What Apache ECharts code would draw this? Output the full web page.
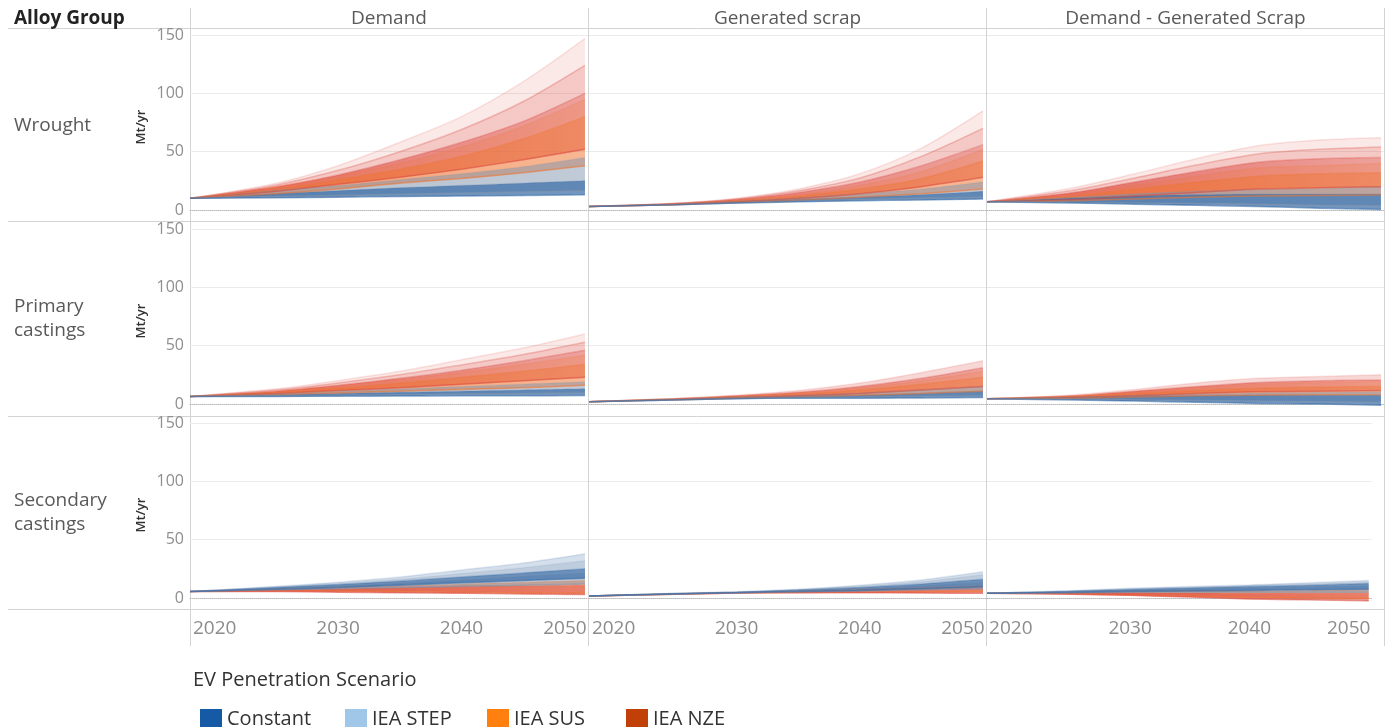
<!DOCTYPE html>
<html>
<head>
<meta charset="utf-8">
<script src="https://cdn.jsdelivr.net/npm/echarts@6/dist/echarts.min.js"></script>
<style>
  html, body { margin: 0; padding: 0; background: #ffffff; }
  #chart { width: 1396px; height: 727px; }
</style>
</head>
<body>
<div id="chart"></div>
<script>
// ---- data -------------------------------------------------------------
const years = [2018, 2025, 2030, 2035, 2040, 2045, 2050];
const xTicks = [2020, 2030, 2040, 2050];
const alloyGroups = ['Wrought', 'Primary\ncastings', 'Secondary\ncastings'];
const measures = ['Demand', 'Generated scrap', 'Demand - Generated Scrap'];
const scenarios = ['Constant', 'IEA STEP', 'IEA SUS', 'IEA NZE'];

// Each scenario is a bundle of model runs, summarised by level lines (Mt/yr per year),
// listed from the dense edge of the bundle towards its sparse, fading edge.
const wroughtDemandConstant = [[10, 10.5, 11, 11.5, 12, 12.5, 13], [10, 14, 16.5, 19, 21, 23, 25]];
const wroughtDemandStep     = [[10, 11.5, 12.5, 13.5, 14.5, 15.5, 16.5], [10, 17, 21, 26, 31, 37, 45]];
const wroughtDemandSus      = [[10, 14, 18, 23, 27, 32, 38], [10, 18, 26, 35, 46, 61, 80], [10, 20, 29, 40, 54, 72, 95]];
const wroughtDemandNze      = [[10, 16, 22, 28, 35, 43, 52], [10, 20, 30, 43, 58, 76, 100], [10, 21.5, 34, 50, 69, 93, 124], [10, 23, 38, 58, 80, 110, 147]];

const wroughtScrapConstant = [[3, 4.5, 6, 7, 8, 8.5, 9.5], [3, 5, 7, 9, 11, 13, 16]];
const wroughtScrapStep     = [[3, 4.5, 6, 7.5, 9, 10, 11], [3, 5.2, 7.5, 10.5, 14, 18, 24]];
const wroughtScrapSus      = [[3, 4.6, 6.5, 8.5, 11, 14, 18], [3, 5, 8, 12, 18, 27, 42], [3, 5.3, 8.5, 13, 21, 33, 52]];
const wroughtScrapNze      = [[3, 4.8, 7, 10, 14, 20, 28], [3, 5.5, 9, 15, 24, 38, 56], [3, 5.6, 9.5, 16.5, 27.5, 46, 70], [3, 5.8, 10, 18, 31, 53, 85]];

const wroughtNetConstant = [[7, 6, 5, 4, 3, 1.5, 0.5], [7, 10, 12, 13, 13.5, 13.5, 13.5]];
const wroughtNetStep     = [[7, 6.5, 6, 5.5, 5, 4, 3.5], [7, 11, 14, 16, 17.5, 18.5, 20]];
const wroughtNetSus      = [[7, 8, 9.5, 11, 12, 12.5, 13], [7, 12, 18, 24, 29, 31, 32], [7, 14, 21, 29, 36, 38, 40]];
const wroughtNetNze      = [[7, 9, 12, 15, 18, 19, 20], [7, 15, 24, 33, 41, 44, 45], [7, 17, 27.5, 38.5, 48, 52, 54], [7, 19, 31, 44, 55, 60, 62]];

const primaryDemandConstant = [[6.5, 6.5, 6.7, 6.8, 7, 7, 7.2], [6.5, 8, 9, 10, 11, 12, 13]];
const primaryDemandStep     = [[6.5, 7, 7.5, 8, 8.5, 9, 9.5], [6.5, 9, 11, 13, 15, 17, 19]];
const primaryDemandSus      = [[6.5, 8, 9.5, 11, 12.5, 14, 16], [6.5, 10, 13.5, 18, 23, 28, 34], [6.5, 11, 15.5, 21, 27, 34, 42]];
const primaryDemandNze      = [[6.5, 9, 11.5, 14, 17, 20, 23], [6.5, 11, 16, 22, 29, 37, 46], [6.5, 12, 18, 25, 33.5, 42.5, 53], [6.5, 13, 20, 28, 38, 48, 60]];

const primaryScrapConstant = [[2, 3.5, 4.5, 5, 5, 5.2, 5.5], [2, 4, 5.5, 6.5, 7.5, 9, 11]];
const primaryScrapStep     = [[2, 3.5, 4.7, 5.5, 6, 6.5, 7], [2, 4.2, 6, 7.5, 9.5, 12, 15]];
const primaryScrapSus      = [[2, 3.7, 5, 6, 7.5, 9, 11], [2, 4.3, 6.3, 8.5, 12, 17, 23], [2, 4.5, 6.8, 9.5, 14, 20, 28]];
const primaryScrapNze      = [[2, 3.8, 5.3, 7, 9, 12, 15], [2, 4.5, 7, 10, 15, 22, 31], [2, 4.8, 7.5, 11.5, 18, 27, 37]];

const primaryNetConstant = [[4.5, 3.5, 2.5, 1.5, 0.5, 0, -1], [4.5, 5.5, 6.5, 7, 7.5, 7.5, 7.5]];
const primaryNetStep     = [[4.5, 4, 3.5, 3, 2.5, 2, 1.5], [4.5, 6, 7.5, 8.5, 9.5, 10, 10.5]];
const primaryNetSus      = [[4.5, 5, 6, 7, 7.5, 8, 8], [4.5, 6.5, 9, 11.5, 13.5, 14.5, 15], [4.5, 7, 10.5, 14, 17, 18.5, 19.5]];
const primaryNetNze      = [[4.5, 5.5, 7, 9, 10.5, 11, 11.5], [4.5, 7, 11, 15, 18.5, 20, 20.5], [4.5, 7.8, 12.5, 18, 22, 23.5, 25]];

const secondaryDemandConstant = [[5.5, 7.5, 9, 11, 13, 15, 17], [5.5, 9, 11.5, 14.5, 18, 21.5, 25], [5.5, 10, 13.5, 18, 24, 30, 38]];
const secondaryDemandStep     = [[5.5, 7, 8, 9, 10, 11, 12], [5.5, 8.5, 10.5, 13, 16, 19, 22], [5.5, 9.5, 12.5, 16, 21, 26, 32]];
const secondaryDemandSus      = [[5.5, 6, 6, 5.5, 5, 4.5, 4], [5.5, 7.5, 9, 10.5, 12, 13.5, 15]];
const secondaryDemandNze      = [[5.5, 5.5, 5, 4.5, 4, 3.5, 3], [5.5, 7, 8, 9, 10, 10.5, 11]];

const secondaryScrapConstant = [[1.7, 3.5, 4.6, 5.5, 6.5, 8, 9.5], [1.7, 3.8, 5, 6.8, 9, 12, 16], [1.7, 4, 5.3, 7.5, 11, 15.5, 22.5]];
const secondaryScrapStep     = [[1.7, 3.4, 4.5, 5.3, 6, 7, 8], [1.7, 3.7, 4.9, 6.5, 8.5, 11, 14], [1.7, 3.9, 5.2, 7.2, 10, 14, 20]];
const secondaryScrapSus      = [[1.7, 3.3, 4.3, 4.8, 5, 5.2, 5.5], [1.7, 3.6, 4.8, 6, 7.5, 9, 10.5]];
const secondaryScrapNze      = [[1.7, 3.2, 4.2, 4.5, 4.5, 4.3, 4], [1.7, 3.5, 4.6, 5.5, 6.5, 7.5, 8.5]];

const secondaryNetConstant = [[4, 4.8, 5.5, 6, 6.5, 7, 7.5], [4, 5.8, 7.2, 8.5, 9.8, 11, 12.5], [4, 6.3, 8.3, 9.8, 11.2, 13, 15]];
const secondaryNetStep     = [[4, 4.5, 5, 5, 5, 5, 5], [4, 5.5, 6.8, 8, 9, 10, 11], [4, 6, 7.6, 9, 10.5, 12, 13.5]];
const secondaryNetSus      = [[4, 3.5, 2.5, 1.5, 0.5, 0, -0.5], [4, 5, 5.5, 6, 6.3, 6.5, 7]];
const secondaryNetNze      = [[4, 3.3, 2.3, 0.8, -0.8, -1.5, -2.3], [4, 4.5, 4.5, 4.2, 4, 4, 4]];

// panel lookup: [alloy group][measure][scenario]
const panelData = [
  [[wroughtDemandConstant, wroughtDemandStep, wroughtDemandSus, wroughtDemandNze],
   [wroughtScrapConstant, wroughtScrapStep, wroughtScrapSus, wroughtScrapNze],
   [wroughtNetConstant, wroughtNetStep, wroughtNetSus, wroughtNetNze]],
  [[primaryDemandConstant, primaryDemandStep, primaryDemandSus, primaryDemandNze],
   [primaryScrapConstant, primaryScrapStep, primaryScrapSus, primaryScrapNze],
   [primaryNetConstant, primaryNetStep, primaryNetSus, primaryNetNze]],
  [[secondaryDemandConstant, secondaryDemandStep, secondaryDemandSus, secondaryDemandNze],
   [secondaryScrapConstant, secondaryScrapStep, secondaryScrapSus, secondaryScrapNze],
   [secondaryNetConstant, secondaryNetStep, secondaryNetSus, secondaryNetNze]]
];

// ---- styling ----------------------------------------------------------
const FONT = '"Open Sans", "Noto Sans", sans-serif';
const legendColors = ['#165aa5', '#a0c6e8', '#ff800e', '#c04008'];
const bundleColors = ['#3b6ea8', '#8194ad', '#ef7430', '#dc4a40'];
const denseAlpha = [0.78, 0.58, 0.72, 0.86];       // per scenario, first band at 2018
const spreadFade = [0.92, 0.85, 0.72, 0.6];        // how much the first band thins out by 2050
const fadeAlpha = { 2: [0.22], 3: [0.3, 0.12] };   // outer bands, by number of outer bands
const drawOrderByRow = [[3, 2, 1, 0], [3, 2, 1, 0], [2, 3, 1, 0]];

const colLeft = [190, 589, 987];
const colWidth = [398, 397, 397];
const rowTop = [35, 229, 423];            // y of the 150 gridline
const rowHeight = 175;                    // 150 -> 0
const frameColor = '#d3d3d3';

const rgba = (hex, a) => {
  const n = parseInt(hex.slice(1), 16);
  return 'rgba(' + (n >> 16 & 255) + ',' + (n >> 8 & 255) + ',' + (n & 255) + ',' + a.toFixed(3) + ')';
};

// Series sit on a hidden time axis (one stamp per year) so that stacking runs along y;
// a visible value axis over the same span carries the year labels.
const yearStamp = y => Date.UTC(y, 0, 1);
const yearMin = 2018, yearMax = 2050.25;
const stampMin = yearStamp(2018);
const stampMax = Date.UTC(2050, 3, 1);

const grids = [], labelAxes = [], dataAxes = [], yAxes = [], series = [];

for (let r = 0; r < 3; r++) {
  for (let c = 0; c < 3; c++) {
    const p = r * 3 + c;
    grids.push({ left: colLeft[c], top: rowTop[r], width: colWidth[c], height: rowHeight, containLabel: false });
    labelAxes.push({
      gridIndex: p, type: 'value', min: yearMin, max: yearMax, position: 'bottom',
      axisLine: { show: true, onZero: true, lineStyle: { color: '#b9b9b9', type: 'dotted', width: 1 } },
      axisTick: { show: false },
      splitLine: { show: false },
      axisLabel: {
        show: r === 2, customValues: xTicks, margin: 21,
        formatter: v => (v === 2050 ? '{a|' + v + '}{s| }' : '{a|' + v + '}'),
        rich: {
          a: { fontSize: 19, color: '#8c8c8c', fontFamily: FONT },
          s: { width: 40, fontSize: 19 }
        }
      }
    });
    dataAxes.push({ gridIndex: p, type: 'time', min: stampMin, max: stampMax, show: false, position: 'top' });
    yAxes.push({
      gridIndex: p, type: 'value', min: 0, max: 150, interval: 50,
      axisLine: { show: false }, axisTick: { show: false },
      axisLabel: { show: c === 0, margin: 6, color: '#8f8f8f', fontSize: 16, fontFamily: FONT },
      splitLine: { show: true, showMinLine: false, lineStyle: { color: '#ebebeb', width: 1 } }
    });

    drawOrderByRow[r].forEach(s => {
      const levels = panelData[r][c][s];
      const color = bundleColors[s];
      const nBands = levels.length - 1;
      const outer = fadeAlpha[nBands] || [];
      const common = {
        type: 'line', name: scenarios[s], xAxisIndex: 9 + p, yAxisIndex: p,
        smooth: 0.3, symbol: 'none', silent: true, clip: false, animation: false
      };
      // shaded bands between consecutive level lines; runs thin out as the bundle spreads
      for (let i = 0; i < nBands; i++) {
        const key = 'p' + p + 's' + s + 'b' + i;
        const a0 = i === 0 ? denseAlpha[s] : outer[i - 1];
        const a1 = i === 0 ? denseAlpha[s] * spreadFade[s] : outer[i - 1];
        series.push(Object.assign({}, common, {
          stack: key, stackStrategy: 'all',
          data: years.map((y, k) => [yearStamp(y), levels[i][k]]),
          lineStyle: { opacity: 0 }
        }));
        series.push(Object.assign({}, common, {
          stack: key, stackStrategy: 'all',
          data: years.map((y, k) => [yearStamp(y), levels[i + 1][k] - levels[i][k]]),
          lineStyle: { opacity: 0 },
          areaStyle: {
            opacity: 1,
            color: new echarts.graphic.LinearGradient(0, 0, 1, 0, [
              { offset: 0, color: rgba(color, a0) },
              { offset: 1, color: rgba(color, a1) }
            ])
          }
        }));
      }
      // individual run traces at each level
      levels.forEach((lv, i) => {
        const last = i === levels.length - 1;
        series.push(Object.assign({}, common, {
          data: years.map((y, k) => [yearStamp(y), lv[k]]),
          lineStyle: { color: color, width: 1.5, opacity: i === 0 ? 0.6 : (last ? 0.15 : 0.3) }
        }));
      });
    });
  }
}

// ---- frame, headers and labels ---------------------------------------
const graphics = [];
const hLine = (y, x1, x2) => graphics.push({ type: 'line', silent: true, shape: { x1, y1: y, x2, y2: y }, style: { stroke: frameColor, lineWidth: 1 } });
const vLine = (x, y1, y2) => graphics.push({ type: 'line', silent: true, shape: { x1: x, y1, x2: x, y2 }, style: { stroke: frameColor, lineWidth: 1 } });

[28.5, 221.5, 416.5, 609.5].forEach(y => hLine(y, 8, 1385));
[190.5, 588.5, 986.5, 1384.5].forEach(x => vLine(x, 8, 646));

graphics.push({ type: 'text', silent: true, style: { text: 'Alloy Group', x: 14, y: 19, fill: '#222222', fontSize: 19, fontWeight: 'bold', fontFamily: FONT, verticalAlign: 'middle' } });
measures.forEach((m, c) => graphics.push({
  type: 'text', silent: true,
  style: { text: m, x: colLeft[c] + colWidth[c] / 2, y: 19, fill: '#595959', fontSize: 19, fontFamily: FONT, textAlign: 'center', verticalAlign: 'middle' }
}));
const rowLabelY = [126, 319, 513];
alloyGroups.forEach((g, r) => graphics.push({
  type: 'text', silent: true,
  style: { text: g, x: 14, y: rowLabelY[r], fill: '#595959', fontSize: 19, lineHeight: 24, fontFamily: FONT, verticalAlign: 'middle' }
}));
[127, 321, 515].forEach(y => graphics.push({
  type: 'text', silent: true, x: 141, y: y, rotation: Math.PI / 2,
  style: { text: 'Mt/yr', x: 0, y: 0, fill: '#333333', fontSize: 13, fontWeight: 600, fontFamily: FONT, textAlign: 'center', verticalAlign: 'middle' }
}));
graphics.push({ type: 'text', silent: true, style: { text: 'EV Penetration Scenario', x: 193, y: 680, fill: '#333333', fontSize: 20, fontFamily: FONT, verticalAlign: 'middle' } });

// ---- legend: one swatch per scenario --------------------------------
const legendLeft = [195, 340, 482, 621];
const legends = scenarios.map((name, s) => ({
  data: [{ name: name, icon: 'rect', itemStyle: { color: legendColors[s], opacity: 1, borderWidth: 0 } }],
  left: legendLeft[s], top: 704, itemWidth: 22, itemHeight: 21,
  textStyle: { fontSize: 20, color: '#333333', fontFamily: FONT }
}));

const chart = echarts.init(document.getElementById('chart'), null, { renderer: 'canvas' });
chart.setOption({
  backgroundColor: '#ffffff',
  animation: false,
  grid: grids,
  xAxis: labelAxes.concat(dataAxes),
  yAxis: yAxes,
  legend: legends,
  graphic: graphics,
  series: series
});
</script>
</body>
</html>
